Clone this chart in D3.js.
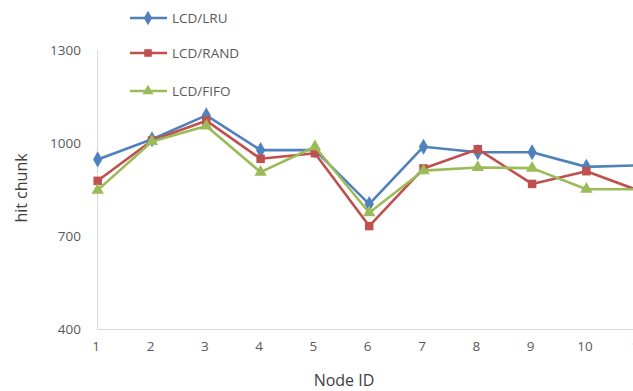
<!DOCTYPE html>
<html><head><meta charset="utf-8">
<script src="https://cdn.jsdelivr.net/npm/d3@7"></script>
<style>body{margin:0;background:#fff}svg{display:block}text{font-family:"Open Sans",sans-serif}</style>
</head><body><svg id="c" width="633" height="391"></svg>
<script>
const categories = [1,2,3,4,5,6,7,8,9,10,11];
const lru  = [947,1012,1089,977,977,803,988,970,970,923,928];
const rand = [878,1008,1072,949,967,732,918,980,868,909,844];
const fifo = [848,1005,1055,906,988,775,911,921,919,851,851];
const seriesNames = ["LCD/LRU","LCD/RAND","LCD/FIFO"];
const yTicks = [400,700,1000,1300];

const series = [
  {name:seriesNames[0], values:lru,  color:"#4F81BD", shape:d3.symbolDiamond, size:75},
  {name:seriesNames[1], values:rand, color:"#C0504D", shape:d3.symbolSquare, size:72},
  {name:seriesNames[2], values:fifo, color:"#9BBB59", shape:d3.symbolTriangle, size:66}
];

const svg = d3.select("#c");
const x = d3.scalePoint().domain(categories).range([97.7, 97.7 + 54.3*10]);
const y = d3.scaleLinear().domain([400,1300]).range([329,50]);

// axes lines
svg.append("line").attr("x1",97.5).attr("x2",97.5).attr("y1",50).attr("y2",329.5)
  .attr("stroke","#D9D9D9").attr("stroke-width",1);
svg.append("line").attr("x1",97).attr("x2",633).attr("y1",329.5).attr("y2",329.5)
  .attr("stroke","#D9D9D9").attr("stroke-width",1);

// y tick labels
const yAxis = d3.axisLeft(y).tickValues(yTicks).tickFormat(d3.format("d")).tickSize(0).tickPadding(0);
const gy = svg.append("g").attr("transform","translate(81,0)").call(yAxis);
gy.select(".domain").remove();
gy.selectAll("text").attr("fill","#595959").style("font-size","13.5px").style("font-family","'Open Sans',sans-serif");

// x tick labels
const xAxis = d3.axisBottom(x).tickSize(0).tickPadding(0);
const gx = svg.append("g").attr("transform","translate(-2,341)").call(xAxis);
gx.select(".domain").remove();
gx.selectAll("text").attr("fill","#595959").style("font-size","13.5px").style("font-family","'Open Sans',sans-serif");

// axis titles
svg.append("text").attr("x",344).attr("y",386).attr("text-anchor","middle")
  .attr("fill","#404040").style("font-size","16px").text("Node ID");
svg.append("text").attr("transform","translate(27,188) rotate(-90)").attr("text-anchor","middle")
  .attr("fill","#404040").style("font-size","16px").text("hit chunk");

// series
const line = d3.line().x((d,i)=>x(categories[i])).y(d=>y(d));
series.forEach(s=>{
  const g = svg.append("g");
  g.append("path").attr("d",line(s.values)).attr("fill","none")
    .attr("stroke",s.color).attr("stroke-width",2.6).attr("stroke-linejoin","round");
  g.selectAll("path.m").data(s.values).join("path").attr("class","m")
    .attr("d",d3.symbol().type(s.shape).size(s.size))
    .attr("transform",(d,i)=>`translate(${x(categories[i])},${y(d)})`)
    .attr("fill",s.color);
});

// legend
const legY = [18,53,91];
series.forEach((s,i)=>{
  const g = svg.append("g").attr("transform",`translate(0,${legY[i]})`);
  g.append("line").attr("x1",130).attr("x2",167).attr("y1",0).attr("y2",0)
    .attr("stroke",s.color).attr("stroke-width",2.6);
  g.append("path").attr("d",d3.symbol().type(s.shape).size(s.size*0.8)).attr("transform","translate(148,0)")
    .attr("fill",s.color);
  g.append("text").attr("x",172).attr("y",0).attr("dy","0.35em").attr("fill","#595959")
    .style("font-size","13.5px").text(s.name);
});
</script></body></html>
